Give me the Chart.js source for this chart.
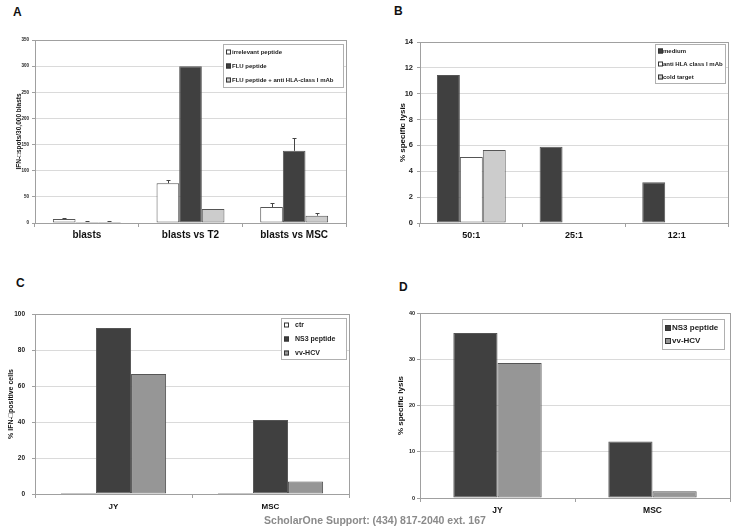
<!DOCTYPE html>
<html>
<head>
<meta charset="utf-8">
<script src="https://cdn.jsdelivr.net/npm/chart.js@4/dist/chart.umd.min.js"></script>
<style>
  html, body { margin: 0; padding: 0; background: #fff; }
  body { width: 733px; height: 531px; position: relative; overflow: hidden; font-family: "Liberation Sans", Arial, sans-serif; }
  .panel { position: absolute; }
  .tag { position: absolute; font-weight: bold; font-size: 12px; color: #111; }
  .footer { position: absolute; left: 0; width: 750px; top: 514px; text-align: center; font-weight: bold; font-size: 10.5px; color: #8a8a8a; }
</style>
</head>
<body>
<div class="tag" style="left:13px;top:5px">A</div>
<div class="tag" style="left:394px;top:4px">B</div>
<div class="tag" style="left:16px;top:276px">C</div>
<div class="tag" style="left:399px;top:280px">D</div>

<div class="panel" style="left:0;top:0;width:366px;height:250px"><canvas id="chart-a"></canvas></div>
<div class="panel" style="left:370px;top:0;width:363px;height:250px"><canvas id="chart-b"></canvas></div>
<div class="panel" style="left:0;top:270px;width:366px;height:250px"><canvas id="chart-c"></canvas></div>
<div class="panel" style="left:370px;top:270px;width:363px;height:250px"><canvas id="chart-d"></canvas></div>

<div class="footer">ScholarOne Support: (434) 817-2040 ext. 167</div>

<script>
// ---------- Data ----------

// A: IFN-gamma spots
const A_CATEGORIES = ["blasts", "blasts vs T2", "blasts vs MSC"];
const A_SERIES = ["irrelevant peptide", "FLU peptide", "FLU peptide + anti HLA-class I mAb"];
const A_IRRELEVANT     = [7.6, 76, 30.5];
const A_IRRELEVANT_ERR = [9.5, 82, 38];
const A_FLU            = [2, 300, 138];
const A_FLU_ERR        = [4.5, null, 162];
const A_FLU_MAB        = [2, 27, 14];
const A_FLU_MAB_ERR    = [4, null, 19];

// B: specific lysis by E:T ratio
const B_RATIOS = ["50:1", "25:1", "12:1"];
const B_SERIES = ["medium", "anti HLA class I mAb", "cold target"];
const B_MEDIUM = [11.45, 5.9, 3.15];
const B_ANTI   = [5.1, 0, 0];
const B_COLD   = [5.65, 0, 0];

// C: IFN-gamma positive cells
const C_TARGETS = ["JY", "MSC"];
const C_SERIES  = ["ctr", "NS3 peptide", "vv-HCV"];
const C_CTR = [0.5, 0.5];
const C_NS3 = [92.2, 41.1];
const C_VV  = [66.7, 6.9];

// D: specific lysis
const D_TARGETS = ["JY", "MSC"];
const D_SERIES  = ["NS3 peptide", "vv-HCV"];
const D_NS3 = [35.7, 12.2];
const D_VV  = [29.2, 1.45];

// ---------- Styling ----------

const FONT = "'Liberation Sans', Arial, sans-serif";
const DARK  = "#404040";
const LIGHT = "#cccccc";
const MID   = "#969696";
const WHITE = "#ffffff";
const EDGE  = "#555555";
const AXIS  = "#a0a0a0";
const GRID  = "#dadada";

// frame around plot area (Excel style)
const framePlugin = {
  id: "frame",
  afterDraw(chart) {
    const { ctx, chartArea: a } = chart;
    ctx.save();
    ctx.strokeStyle = AXIS;
    ctx.lineWidth = 1;
    ctx.strokeRect(Math.round(a.left) + 0.5, Math.round(a.top) + 0.5,
                   Math.round(a.right - a.left), Math.round(a.bottom - a.top));
    ctx.restore();
  }
};

// upper-only error whiskers
const errorPlugin = {
  id: "errors",
  afterDatasetsDraw(chart) {
    const { ctx } = chart;
    const y = chart.scales.y;
    ctx.save();
    ctx.strokeStyle = "#444";
    ctx.lineWidth = 1;
    chart.data.datasets.forEach((ds, i) => {
      if (!ds.errors) return;
      const meta = chart.getDatasetMeta(i);
      meta.data.forEach((bar, j) => {
        const e = ds.errors[j];
        if (e == null) return;
        const x = Math.round(bar.x) + 0.5;
        const ey = Math.round(y.getPixelForValue(e)) + 0.5;
        ctx.beginPath();
        ctx.moveTo(x, bar.y);
        ctx.lineTo(x, ey);
        ctx.moveTo(x - 2, ey);
        ctx.lineTo(x + 2, ey);
        ctx.stroke();
      });
    });
    ctx.restore();
  }
};

// legend box drawn inside the plot area
const boxLegendPlugin = {
  id: "boxLegend",
  afterDraw(chart, args, opts) {
    const { ctx } = chart;
    const { x, y, w, h, rows, size, swatch, textX } = opts;
    ctx.save();
    ctx.fillStyle = "#fff";
    ctx.fillRect(x, y, w, h);
    ctx.strokeStyle = "#b0b0b0";
    ctx.lineWidth = 1;
    ctx.strokeRect(x + 0.5, y + 0.5, w, h);
    ctx.font = `bold ${size}px ${FONT}`;
    ctx.textBaseline = "middle";
    chart.data.datasets.forEach((ds, i) => {
      const ry = y + rows[i];
      ctx.fillStyle = ds.backgroundColor;
      ctx.fillRect(x + 3, ry - swatch / 2, swatch, swatch);
      ctx.strokeStyle = "#333";
      ctx.strokeRect(x + 3.5, ry - swatch / 2 + 0.5, swatch - 1, swatch - 1);
      ctx.fillStyle = "#222";
      ctx.fillText(ds.label, x + textX, ry);
    });
    ctx.restore();
  }
};

function bars(label, data, color, errors, edge) {
  return {
    label, data, errors,
    backgroundColor: color,
    borderColor: edge || EDGE,
    borderWidth: 1,
    borderSkipped: false,
    barPercentage: 1,
  };
}

function makePanel(id, cfg) {
  return new Chart(document.getElementById(id), {
    type: "bar",
    data: { labels: cfg.labels, datasets: cfg.datasets.map(d => ({ ...d, categoryPercentage: cfg.group })) },
    options: {
      responsive: true,
      maintainAspectRatio: false,
      animation: false,
      layout: { padding: { top: cfg.padTop, right: cfg.padRight, left: 0, bottom: 0 } },
      plugins: {
        legend: { display: false },
        tooltip: { enabled: false },
        boxLegend: cfg.legend,
      },
      scales: {
        x: {
          grid: { display: true, drawOnChartArea: false, drawTicks: true, tickLength: 4, color: AXIS, offset: true },
          border: { color: AXIS },
          ticks: { color: "#111", padding: cfg.xPad, font: { family: FONT, size: cfg.xSize, weight: "bold" } },
          afterFit: s => { s.height = cfg.xHeight; },
        },
        y: {
          min: 0, max: cfg.max,
          ticks: { stepSize: cfg.step, color: "#222", padding: cfg.yPad, font: { family: FONT, size: cfg.ySize, weight: "bold" } },
          grid: { color: GRID, tickLength: 3, tickColor: AXIS },
          border: { color: AXIS },
          title: {
            display: true, text: cfg.yTitle, color: "#111",
            padding: { top: cfg.titleX, bottom: 0 },
            font: { family: FONT, size: cfg.titleSize, weight: "bold" },
          },
          afterFit: s => { s.width = cfg.yWidth; },
        },
      },
    },
    plugins: [framePlugin, errorPlugin, boxLegendPlugin],
  });
}

Chart.defaults.font.family = FONT;

makePanel("chart-a", {
  labels: A_CATEGORIES,
  datasets: [
    bars(A_SERIES[0], A_IRRELEVANT, WHITE, A_IRRELEVANT_ERR),
    bars(A_SERIES[1], A_FLU, DARK, A_FLU_ERR),
    bars(A_SERIES[2], A_FLU_MAB, LIGHT, A_FLU_MAB_ERR),
  ],
  group: 0.655, max: 350, step: 50,
  yTitle: "IFN-\u25A1spots/30,000 blasts", titleSize: 6.5, titleX: 15, ySize: 4.5, xSize: 10, yPad: 3,
  yWidth: 35, xHeight: 27, padTop: 40, padRight: 20, xPad: 2,
  legend: { x: 223, y: 44, w: 120, h: 43, rows: [8, 22, 36], size: 6, swatch: 5, textX: 9 },
});

makePanel("chart-b", {
  labels: B_RATIOS,
  datasets: [
    bars(B_SERIES[0], B_MEDIUM, DARK),
    bars(B_SERIES[1], B_ANTI, WHITE),
    bars(B_SERIES[2], B_COLD, LIGHT),
  ],
  group: 0.67, max: 14, step: 2,
  yTitle: "% specific lysis", titleSize: 8, titleX: 28, ySize: 7.5, xSize: 9, yPad: 4,
  yWidth: 50, xHeight: 27, padTop: 42, padRight: 5, xPad: 3,
  legend: { x: 285, y: 44, w: 70, h: 39, rows: [7, 20, 33], size: 6, swatch: 5, textX: 8 },
});

makePanel("chart-c", {
  labels: C_TARGETS,
  datasets: [
    bars(C_SERIES[0], C_CTR, WHITE, null, "#222"),
    bars(C_SERIES[1], C_NS3, DARK),
    bars(C_SERIES[2], C_VV, MID),
  ],
  group: 0.67, max: 100, step: 20,
  yTitle: "% IFN-\u25A1positive cells", titleSize: 7, titleX: 7, ySize: 6.5, xSize: 8, yPad: 7,
  yWidth: 35, xHeight: 26, padTop: 44, padRight: 17, xPad: 4,
  legend: { x: 281, y: 48, w: 65, h: 41, rows: [7, 21, 35], size: 7, swatch: 5, textX: 14 },
});

makePanel("chart-d", {
  labels: D_TARGETS,
  datasets: [
    bars(D_SERIES[0], D_NS3, DARK),
    bars(D_SERIES[1], D_VV, MID),
  ],
  group: 0.57, max: 40, step: 10,
  yTitle: "% specific lysis", titleSize: 8, titleX: 26, ySize: 5.5, xSize: 8.5, yPad: 2,
  yWidth: 50, xHeight: 22, padTop: 43, padRight: 3, xPad: 4,
  legend: { x: 292, y: 49, w: 62, h: 30, rows: [9, 22], size: 8, swatch: 6, textX: 10 },
});
</script>
</body>
</html>
